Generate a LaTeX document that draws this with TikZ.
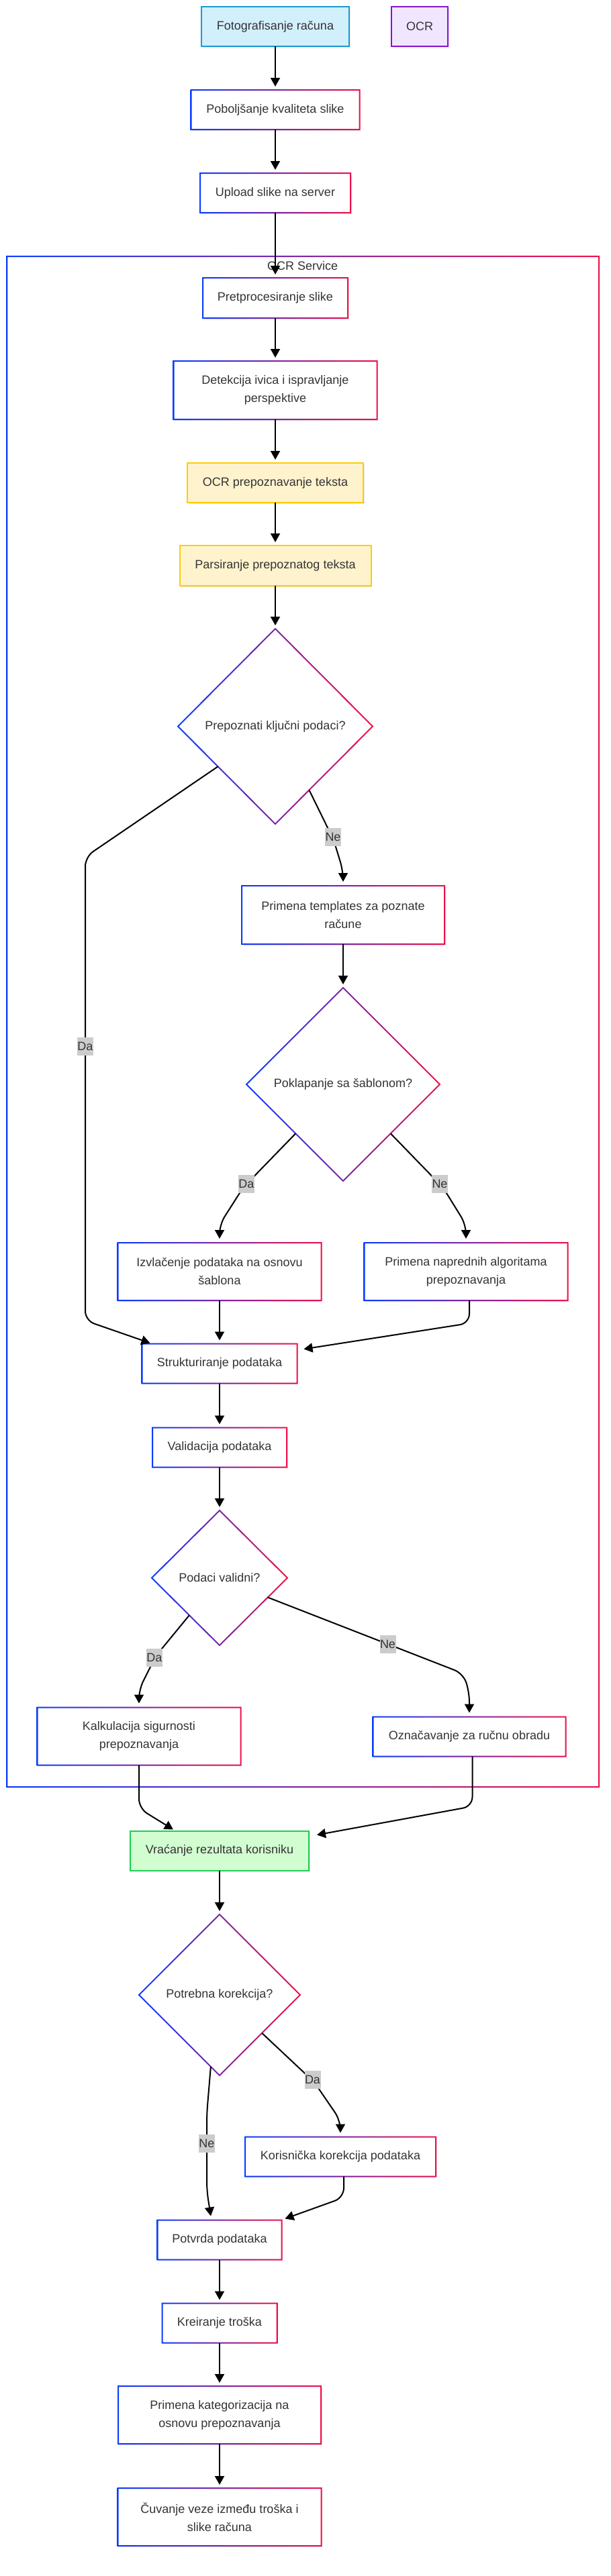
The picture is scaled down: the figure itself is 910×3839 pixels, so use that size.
\documentclass[tikz,border=0pt]{standalone}
\usepackage{fontspec}
\setmainfont{Liberation Sans}
\usetikzlibrary{arrows.meta,shapes.geometric,calc,shadows}
\definecolor{gblue}{HTML}{0A3CFF}
\definecolor{gred}{HTML}{F0104A}
\definecolor{txt}{HTML}{333333}
\definecolor{labg}{HTML}{CCCCCC}
\definecolor{fotofill}{HTML}{D2EFFC}
\definecolor{fotodraw}{HTML}{1A9AD2}
\definecolor{ocrfill}{HTML}{F0E6FF}
\definecolor{ocrdraw}{HTML}{8A12D0}
\definecolor{yelfill}{HTML}{FFF3CE}
\definecolor{yeldraw}{HTML}{FFCC00}
\definecolor{grnfill}{HTML}{D2FDD0}
\definecolor{grndraw}{HTML}{22CC55}

\newcommand\gradring[1]{%
  \shade[left color=gblue, right color=gred, even odd rule]
    ($(#1.north west)+(-1,-1)$) rectangle ($(#1.south east)+(1,1)$)
    ($(#1.north west)+(1,1)$) rectangle ($(#1.south east)+(-1,-1)$);
}
\newcommand\gradiam[1]{%
  \shade[left color=gblue, right color=gred, even odd rule]
    ($(#1.north)+(0,-1.4)$) -- ($(#1.east)+(1.4,0)$) -- ($(#1.south)+(0,1.4)$) -- ($(#1.west)+(-1.4,0)$) -- cycle
    ($(#1.north)+(0,1.4)$) -- ($(#1.east)+(-1.4,0)$) -- ($(#1.south)+(0,-1.4)$) -- ($(#1.west)+(1.4,0)$) -- cycle;
}

\tikzset{
  base/.style={rectangle, inner sep=0pt, outer sep=0pt, text=txt, align=center,
    font=\fontsize{18pt}{27pt}\selectfont},
  shad/.style={drop shadow={shadow xshift=1.5pt, shadow yshift=-1.5pt, fill=black, opacity=0.1}},
  gbox/.style={base, fill=white, shad},
  sz/.style 2 args={minimum width=#1pt, minimum height=#2pt},
  dia/.style={base, diamond, fill=white},
  arr/.style={draw=black, line width=2pt, -{Triangle[length=13pt,width=14pt]}, rounded corners=14pt},
  sarr/.style={arr, shorten >=5pt},
  lab/.style={base, fill=labg, inner xsep=0.5pt, inner ysep=0pt, minimum height=27pt,
    font=\fontsize{18pt}{22pt}\selectfont}
}

\begin{document}
\begin{tikzpicture}[x=1pt,y=-1pt]
\useasboundingbox (0,0) rectangle (910,3839);

% cluster
\node[base, sz={881.6}{2281}] (svc) at (451.2,1522.5) {};
\gradring{svc}
\node[base] (svct) at (450.6,396) {OCR Service};

% top nodes
\node[base, fill=fotofill, draw=fotodraw, line width=2pt, shad, sz={220}{59}] (foto) at (410,39.5) {Fotografisanje računa};
\node[base, fill=ocrfill, draw=ocrdraw, line width=2pt, shad, sz={84}{59}] (ocr) at (625,39.5) {OCR};
\node[gbox, sz={251}{59}] (pobolj) at (410,163.5) {Poboljšanje kvaliteta slike};
\gradring{pobolj}
\node[gbox, sz={224}{59}] (upload) at (410,287.5) {Upload slike na server};
\gradring{upload}

% inside cluster
\node[gbox, sz={216}{60}] (pre) at (410,444) {Pretprocesiranje slike};
\gradring{pre}
\node[gbox, sz={303}{87}] (det) at (410,581.5) {Detekcija ivica i ispravljanje\\perspektive};
\gradring{det}
\node[base, fill=yelfill, draw=yeldraw, line width=2pt, shad, sz={262}{59}] (ocrt) at (410,719.5) {OCR prepoznavanje teksta};
\node[base, fill=yelfill, draw=yeldraw, line width=2pt, shad, sz={285}{60}] (pars) at (410,843) {Parsiranje prepoznatog teksta};
\node[dia, sz={290}{291}] (d1) at (410,1082.5) {Prepoznati ključni podaci?};
\gradiam{d1}
\node[gbox, sz={302}{87}] (tmpl) at (511,1363.5) {Primena templates za poznate\\račune};
\gradring{tmpl}
\node[dia, sz={288}{288}] (d2) at (511,1616) {Poklapanje sa šablonom?};
\gradiam{d2}
\node[gbox, sz={303}{86}] (izv) at (327,1895) {Izvlačenje podataka na osnovu\\šablona};
\gradring{izv}
\node[gbox, sz={303}{86}] (napr) at (694,1895) {Primena naprednih algoritama\\prepoznavanja};
\gradring{napr}
\node[gbox, sz={231}{59}] (strukt) at (327,2032) {Strukturiranje podataka};
\gradring{strukt}
\node[gbox, sz={200}{59}] (valid) at (327,2157) {Validacija podataka};
\gradring{valid}
\node[dia, sz={202}{201}] (d3) at (327,2351.5) {Podaci validni?};
\gradiam{d3}
\node[gbox, sz={303}{86}] (kalk) at (207,2587.5) {Kalkulacija sigurnosti\\prepoznavanja};
\gradring{kalk}
\node[gbox, sz={287}{59}] (ozn) at (699,2588) {Označavanje za ručnu obradu};
\gradring{ozn}

% after cluster
\node[base, fill=grnfill, draw=grndraw, line width=2pt, shad, sz={266}{59}] (vrac) at (327,2758) {Vraćanje rezultata korisniku};
\node[dia, sz={240}{240}] (d4) at (327,2973) {Potrebna korekcija?};
\gradiam{d4}
\node[gbox, sz={284}{59}] (kor) at (507,3214) {Korisnička korekcija podataka};
\gradring{kor}
\node[gbox, sz={185}{59}] (potv) at (327,3338) {Potvrda podataka};
\gradring{potv}
\node[gbox, sz={171}{59}] (krei) at (327,3462) {Kreiranje troška};
\gradring{krei}
\node[gbox, sz={302}{86}] (kat) at (327,3599) {Primena kategorizacija na\\osnovu prepoznavanja};
\gradring{kat}
\node[gbox, sz={303}{86}] (cuv) at (327,3751) {Čuvanje veze između troška i\\slike računa};
\gradring{cuv}

% edges
\draw[sarr] (foto) -- (pobolj);
\draw[sarr] (pobolj) -- (upload);
\draw[sarr] (upload) -- (pre);
\draw[sarr] (pre) -- (det);
\draw[sarr] (det) -- (ocrt);
\draw[sarr] (ocrt) -- (pars);
\draw[sarr] (pars) -- (d1);
\draw[arr] (d1.215) -- (127,1277) -- (127,1968) -- ($(strukt.north west)+(12,-1)$);
\draw[arr] (d1.298) -- (497,1252) -- (511,1298) -- ($(tmpl.north)+(0,-6)$);
\draw[sarr] (tmpl) -- (d2);
\draw[arr] (d2.226) -- (362,1770) -- (327,1825) -- ($(izv.north)+(0,-6)$);
\draw[arr] (d2.314) -- (660,1770) -- (694,1825) -- ($(napr.north)+(0,-6)$);
\draw[sarr] (izv) -- (strukt);
\draw[arr] ($(napr.south)+(5,0)$) -- (699,1972) -- ($(strukt.north east)+(10,8)$);
\draw[sarr] (strukt) -- (valid);
\draw[sarr] (valid) -- (d3);
\draw[arr] (d3.231) -- (232,2468) -- (207,2518) -- ($(kalk.north)+(0,-6)$);
\draw[arr] (d3.338) -- (690,2494) -- (699,2522) -- ($(ozn.north)+(0,-6)$);
\draw[arr] (kalk.south) -- (207,2695) -- ($(vrac.north west)+(64,-2)$);
\draw[arr] ($(ozn.south)+(4.5,0)$) -- (703.5,2692) -- ($(vrac.north east)+(12,6)$);
\draw[sarr] (vrac) -- (d4);
\draw[arr] (d4.318) -- (468,3103) -- (507,3160) -- ($(kor.north)+(0,-6)$);
\draw[arr] (d4.263) -- (308,3150) -- (308,3265) -- ($(potv.north)+(-13,-6)$);
\draw[arr] ($(kor.south)+(5,0)$) -- (512,3275) -- ($(potv.north east)+(5,-2)$);
\draw[sarr] (potv) -- (krei);
\draw[sarr] (krei) -- (kat);
\draw[sarr] (kat) -- (cuv);

% edge labels
\node[lab] (l1) at (127,1559) {Da};
\node[lab] (l2) at (496,1247) {Ne};
\node[lab] (l3) at (367,1764) {Da};
\node[lab] (l4) at (655,1764) {Ne};
\node[lab] (l5) at (230,2470) {Da};
\node[lab] (l6) at (577.5,2450) {Ne};
\node[lab] (l7) at (465.5,3099) {Da};
\node[lab] (l8) at (308,3194) {Ne};
\end{tikzpicture}
\end{document}
